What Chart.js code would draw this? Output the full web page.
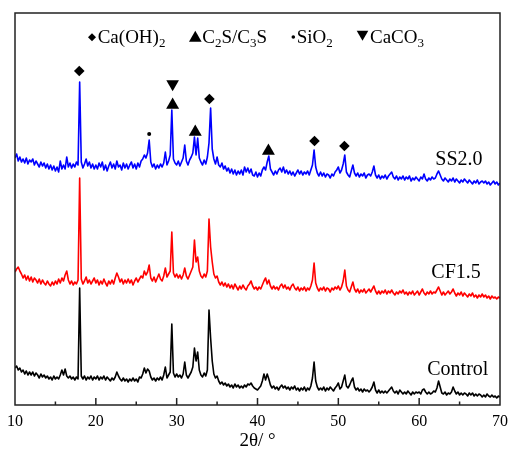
<!DOCTYPE html>
<html>
<head>
<meta charset="utf-8">
<script src="https://cdn.jsdelivr.net/npm/chart.js@4.4.1/dist/chart.umd.min.js"></script>
<style>
  html, body { margin: 0; padding: 0; background: #fff; }
  #wrap { width: 508px; height: 452px; }
</style>
</head>
<body>
<div id="wrap"><canvas id="xrdChart" width="508" height="452"></canvas></div>
<script>
// --- DATA (intensity in a.u., curves already offset) ---
// scan step 0.2 deg, 10..70
const twoTheta = Array.from({ length: 301 }, (_, i) => +(10 + i * 0.2).toFixed(1));

const ss20 = [
  247, 251, 244, 248, 243, 246, 242, 247, 241, 245, // 10
  243, 246, 240, 244, 241, 238, 243, 239, 242, 237, // 12
  241, 236, 240, 235, 239, 234, 238, 233, 244, 236, // 14
  240, 236, 248, 238, 242, 237, 241, 238, 243, 240, // 16
  323, 243, 237, 241, 246, 239, 243, 237, 241, 236, // 18
  240, 236, 242, 238, 243, 235, 240, 234, 239, 243, // 20
  237, 241, 236, 244, 238, 240, 235, 242, 237, 241, // 22
  236, 240, 243, 237, 241, 236, 242, 238, 244, 246, // 24
  250, 247, 252, 265, 243, 238, 241, 236, 240, 237, // 26
  241, 238, 242, 253, 240, 244, 250, 295, 246, 242, // 28
  240, 244, 239, 243, 247, 260, 244, 240, 245, 248, // 30
  252, 268, 250, 267, 247, 243, 240, 245, 241, 248, // 32
  262, 297, 256, 246, 241, 248, 240, 238, 242, 236, // 34
  239, 234, 237, 232, 236, 231, 235, 230, 234, 231, // 36
  235, 230, 238, 233, 237, 232, 236, 230, 229, 233, // 38
  228, 232, 229, 235, 238, 235, 243, 249, 236, 233, // 40
  230, 234, 231, 235, 237, 233, 238, 232, 235, 231, // 42
  234, 230, 233, 229, 232, 235, 231, 234, 230, 233, // 44
  231, 234, 230, 235, 240, 255, 238, 232, 229, 233, // 46
  229, 232, 228, 231, 230, 227, 231, 229, 233, 235, // 48
  238, 232, 235, 241, 250, 233, 230, 228, 234, 240, // 50
  232, 229, 232, 228, 231, 229, 232, 227, 230, 231, // 52
  229, 233, 239, 230, 227, 230, 226, 229, 227, 230, // 54
  226, 229, 231, 233, 228, 226, 229, 225, 228, 226, // 56
  229, 225, 228, 226, 229, 224, 227, 225, 228, 226, // 58
  224, 228, 226, 231, 226, 224, 227, 225, 228, 226, // 60
  227, 231, 234, 230, 226, 224, 227, 225, 223, 226, // 62
  224, 227, 223, 226, 224, 222, 225, 223, 226, 224, // 64
  222, 225, 223, 221, 224, 222, 225, 221, 223, 224, // 66
  222, 224, 221, 223, 220, 222, 224, 221, 223, 220, // 68
  222                                               // 70
];

const cf15 = [
  133, 136, 138, 134, 131, 127, 130, 125, 129, 124, // 10
  128, 123, 127, 125, 122, 126, 121, 125, 122, 120, // 12
  124, 121, 119, 123, 120, 124, 121, 126, 122, 127, // 14
  124, 130, 134, 125, 121, 124, 120, 123, 121, 125, // 16
  227, 126, 121, 124, 128, 122, 125, 121, 124, 127, // 18
  122, 125, 120, 124, 121, 126, 122, 119, 124, 121, // 20
  125, 121, 127, 132, 128, 123, 126, 121, 125, 122, // 22
  126, 122, 125, 120, 124, 127, 123, 126, 129, 127, // 24
  134, 130, 133, 140, 127, 124, 128, 123, 127, 131, // 26
  126, 124, 129, 137, 128, 131, 134, 173, 132, 128, // 28
  131, 127, 130, 126, 130, 137, 129, 126, 130, 134, // 30
  138, 165, 143, 148, 134, 129, 127, 131, 128, 134, // 32
  186, 158, 143, 131, 127, 129, 123, 120, 123, 119, // 34
  122, 118, 121, 117, 120, 116, 121, 118, 115, 119, // 36
  116, 120, 117, 115, 119, 121, 124, 119, 116, 118, // 38
  115, 118, 116, 120, 124, 127, 121, 125, 119, 116, // 40
  119, 116, 118, 115, 119, 121, 117, 120, 116, 118, // 42
  115, 119, 121, 117, 115, 118, 114, 117, 115, 118, // 44
  114, 117, 115, 119, 125, 142, 122, 117, 114, 117, // 46
  115, 118, 114, 117, 116, 113, 117, 115, 118, 116, // 48
  119, 115, 118, 124, 135, 119, 115, 113, 118, 123, // 50
  116, 113, 116, 112, 115, 113, 116, 112, 114, 116, // 52
  113, 116, 119, 114, 111, 114, 111, 114, 112, 115, // 54
  111, 114, 112, 115, 112, 110, 113, 111, 114, 112, // 56
  115, 111, 113, 110, 113, 111, 114, 110, 112, 114, // 58
  110, 113, 116, 112, 110, 113, 111, 114, 111, 113, // 60
  112, 115, 118, 114, 110, 113, 110, 112, 114, 111, // 62
  113, 116, 112, 109, 112, 110, 113, 109, 112, 110, // 64
  108, 111, 109, 112, 108, 110, 107, 110, 108, 111, // 66
  108, 110, 107, 109, 106, 109, 107, 108, 106, 108, // 68
  107                                               // 70
];

const control = [
  37, 39, 35, 37, 33, 35, 31, 34, 30, 33, // 10
  30, 33, 29, 32, 30, 27, 31, 28, 30, 27, // 12
  29, 26, 28, 25, 29, 26, 28, 26, 30, 35, // 14
  30, 36, 29, 27, 29, 26, 28, 25, 28, 26, // 16
  117, 29, 26, 29, 25, 28, 26, 29, 25, 28, // 18
  26, 29, 25, 28, 26, 29, 25, 28, 26, 24, // 20
  27, 25, 28, 33, 29, 26, 24, 27, 24, 26, // 22
  23, 26, 24, 27, 24, 26, 23, 28, 27, 31, // 24
  37, 32, 36, 34, 28, 25, 27, 24, 27, 25, // 26
  28, 25, 30, 38, 27, 30, 33, 81, 32, 28, // 28
  31, 28, 30, 27, 31, 43, 30, 27, 30, 33, // 30
  38, 57, 44, 53, 35, 30, 28, 32, 29, 35, // 32
  95, 67, 44, 31, 27, 29, 24, 21, 23, 20, // 34
  22, 19, 21, 18, 20, 17, 21, 18, 20, 17, // 36
  19, 17, 20, 18, 21, 20, 22, 19, 17, 16, // 38
  15, 17, 19, 24, 31, 25, 31, 26, 20, 17, // 40
  19, 16, 18, 15, 18, 20, 17, 19, 16, 18, // 42
  15, 18, 16, 19, 15, 17, 14, 17, 15, 18, // 44
  14, 17, 15, 19, 27, 43, 24, 18, 15, 17, // 46
  15, 18, 14, 17, 15, 18, 16, 14, 17, 19, // 48
  22, 16, 18, 24, 30, 19, 17, 20, 24, 27, // 50
  18, 15, 17, 14, 16, 13, 16, 14, 15, 13, // 52
  15, 18, 23, 15, 12, 15, 12, 14, 12, 14, // 54
  12, 14, 16, 18, 14, 12, 14, 11, 15, 13, // 56
  11, 13, 11, 14, 12, 10, 13, 11, 13, 12, // 58
  13, 11, 15, 16, 13, 11, 13, 11, 12, 14, // 60
  13, 17, 24, 18, 12, 11, 13, 10, 12, 11, // 62
  13, 18, 14, 11, 13, 10, 12, 10, 12, 11, // 64
  9, 12, 10, 12, 9, 11, 9, 11, 10, 8,     // 66
  10, 8, 11, 9, 8, 10, 8, 9, 7, 9,         // 68
  8                                         // 70
];

// phase marks above the SS2.0 pattern
const caOH2Angle = [17.95, 34.05, 47.05, 50.75];
const caOH2Height = [334, 306, 264, 259];
const silicateAngle = [29.5, 32.3, 41.35];
const silicateHeight = [300, 273, 254];
const silicaAngle = [26.6];
const silicaHeight = [271];
const calciteAngle = [29.5];
const calciteHeight = [321];

// curve names, anchored in data units
const curveNames = ['SS2.0', 'CF1.5', 'Control'];
const nameAngle = [62.0, 61.5, 61.0];
const nameHeight = [240, 127, 30];

const SERIF = "'Liberation Serif', 'Times New Roman', serif";

function toPoints(xs, ys) {
    return xs.map((x, i) => ({ x: x, y: ys[i] }));
}

function drawSymbol(ctx, kind, x, y, r) {
    ctx.beginPath();
    if (kind === 'diamond') {
        ctx.moveTo(x, y - r); ctx.lineTo(x + r, y); ctx.lineTo(x, y + r); ctx.lineTo(x - r, y);
    } else if (kind === 'up') {
        ctx.moveTo(x, y - r); ctx.lineTo(x + r * 0.866, y + r / 2); ctx.lineTo(x - r * 0.866, y + r / 2);
    } else if (kind === 'down') {
        ctx.moveTo(x, y + r); ctx.lineTo(x + r * 0.866, y - r / 2); ctx.lineTo(x - r * 0.866, y - r / 2);
    } else {
        ctx.arc(x, y, r, 0, Math.PI * 2);
    }
    ctx.closePath();
    ctx.fill();
}

// legend with subscripts (Chart.js legend can't do these)
const legendItems = [
    { kind: 'diamond', r: 4, sx: 92, sy: 37.2, tx: 97.7, parts: [['Ca(OH)', 0], ['2', 1]] },
    { kind: 'up', r: 7.3, sx: 195.3, sy: 38.1, tx: 202.3, parts: [['C', 0], ['2', 1], ['S/C', 0], ['3', 1], ['S', 0]] },
    { kind: 'dot', r: 1.8, sx: 293.3, sy: 37, tx: 296.7, parts: [['SiO', 0], ['2', 1]] },
    { kind: 'down', r: 6.7, sx: 362.5, sy: 34.1, tx: 370, parts: [['CaCO', 0], ['3', 1]] }
];

const framePlugin = {
    id: 'frame',
    afterDraw(chart) {
        const { ctx, chartArea: a, scales: { x, y } } = chart;
        ctx.save();
        ctx.strokeStyle = '#222';
        ctx.lineWidth = 1.5;
        ctx.strokeRect(a.left, a.top, a.right - a.left, a.bottom - a.top);

        // inward ticks on bottom axis, minor every 5
        ctx.beginPath();
        for (let v = 15; v < 70; v += 5) {
            const px = x.getPixelForValue(v);
            const len = v % 10 === 0 ? 7 : 3.5;
            ctx.moveTo(px, a.bottom);
            ctx.lineTo(px, a.bottom - len);
        }
        ctx.stroke();

        // legend
        ctx.fillStyle = '#000';
        ctx.textAlign = 'left';
        ctx.textBaseline = 'alphabetic';
        legendItems.forEach(item => {
            drawSymbol(ctx, item.kind, item.sx, item.sy, item.r);
            let cx = item.tx;
            item.parts.forEach(([txt, sub]) => {
                ctx.font = (sub ? '13px ' : '19px ') + SERIF;
                ctx.fillText(txt, cx, sub ? 47 : 42.5);
                cx += ctx.measureText(txt).width;
            });
        });

        // curve names
        ctx.font = '20px ' + SERIF;
        curveNames.forEach((name, i) => {
            ctx.fillText(name, x.getPixelForValue(nameAngle[i]), y.getPixelForValue(nameHeight[i]));
        });
        ctx.restore();
    }
};

const ctx = document.getElementById('xrdChart').getContext('2d');

const lineStyle = { pointRadius: 0, borderWidth: 1.6, borderJoinStyle: 'round', tension: 0, fill: false };
const markStyle = { type: 'scatter', showLine: false, pointBorderWidth: 0, backgroundColor: '#000', borderColor: '#000' };

new Chart(ctx, {
    type: 'line',
    data: {
        datasets: [
            { label: 'Control', data: toPoints(twoTheta, control), borderColor: '#000000', ...lineStyle },
            { label: 'CF1.5', data: toPoints(twoTheta, cf15), borderColor: '#ff0000', ...lineStyle },
            { label: 'SS2.0', data: toPoints(twoTheta, ss20), borderColor: '#0000ff', ...lineStyle },
            { label: 'Ca(OH)2', data: toPoints(caOH2Angle, caOH2Height), pointStyle: 'rectRot', pointRadius: 5.3, ...markStyle },
            { label: 'C2S/C3S', data: toPoints(silicateAngle, silicateHeight), pointStyle: 'triangle', pointRadius: 7.5, ...markStyle },
            { label: 'SiO2', data: toPoints(silicaAngle, silicaHeight), pointStyle: 'circle', pointRadius: 2, ...markStyle },
            { label: 'CaCO3', data: toPoints(calciteAngle, calciteHeight), pointStyle: 'triangle', pointRotation: 180, pointRadius: 7.3, ...markStyle }
        ]
    },
    options: {
        responsive: false,
        animation: false,
        events: [],
        layout: { padding: { left: 15, right: 8, top: 13, bottom: 0 } },
        plugins: {
            legend: { display: false },
            tooltip: { enabled: false }
        },
        scales: {
            x: {
                type: 'linear',
                min: 10,
                max: 70,
                grid: { display: false, drawTicks: false },
                border: { display: false },
                ticks: {
                    stepSize: 10,
                    padding: 7,
                    color: '#000',
                    font: { family: SERIF, size: 16 },
                    maxRotation: 0
                },
                title: {
                    display: true,
                    text: '2θ/ °',
                    color: '#000',
                    font: { family: SERIF, size: 19 },
                    padding: { top: 0, bottom: 0 }
                },
                afterFit: (scale) => {
                    scale.height = 47;
                    scale.paddingLeft = 0;
                    scale.paddingRight = 0;
                }
            },
            y: {
                display: false,
                min: 0,
                max: 392
            }
        }
    },
    plugins: [framePlugin]
});
</script>
</body>
</html>
